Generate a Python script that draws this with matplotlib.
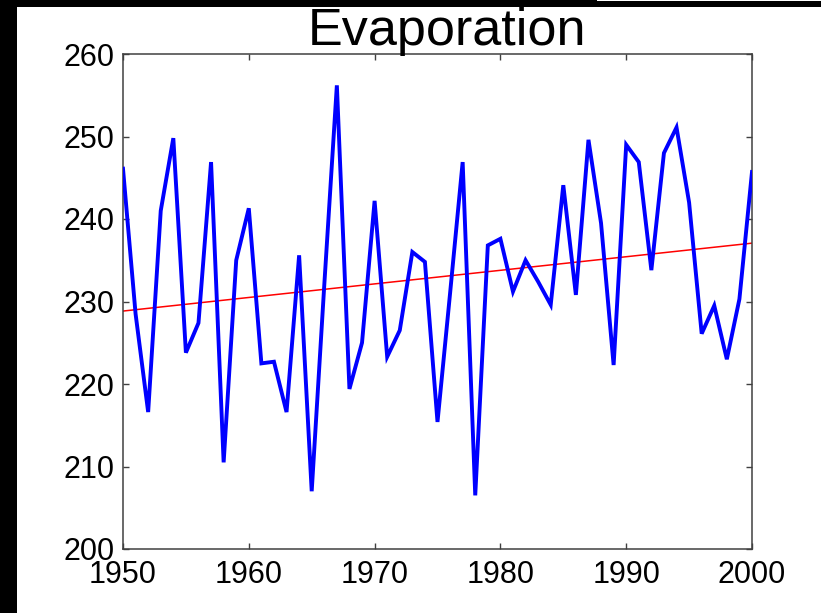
import matplotlib
matplotlib.use('Agg')
import matplotlib.pyplot as plt
from matplotlib.patches import Rectangle
import numpy as np

plt.rcParams['font.family'] = ['Liberation Sans', 'DejaVu Sans']

# annual evaporation, 1950-2000
years = list(range(1950, 2001))
evaporation = [
    246.1, 228.5, 216.6, 241.0, 249.8, 223.8, 227.4, 246.9, 210.5, 235.0,
    241.3, 222.5, 222.7, 216.6, 235.6, 207.0, 232.0, 256.2, 219.4, 225.0,
    242.2, 223.3, 226.5, 236.0, 234.8, 215.4, 231.0, 246.9, 206.5, 236.8,
    237.6, 231.2, 235.0, 232.4, 229.6, 244.1, 230.8, 249.6, 239.5, 222.3,
    249.0, 246.9, 233.8, 248.0, 251.1, 242.0, 226.1, 229.5, 223.0, 230.3,
    245.7,
]

x_ticks = [1950, 1960, 1970, 1980, 1990, 2000]
y_ticks = [200, 210, 220, 230, 240, 250, 260]

W, H = 821, 613
fig = plt.figure(figsize=(W / 100, H / 100), dpi=100)
fig.patch.set_facecolor('white')

ax = fig.add_axes([123 / W, 1 - 549 / H, (752 - 123) / W, (549 - 54) / H])

x = np.array(years, dtype=float)
y = np.array(evaporation)
ax.plot(x, y, color='#0000ff', lw=2.8, solid_joinstyle='miter', zorder=3)

# least squares trend
slope, intercept = np.polyfit(x, y, 1)
ax.plot(x, slope * x + intercept, color='#ff0000', lw=1.1, zorder=2)

ax.set_xlim(1950, 2000)
ax.set_ylim(200, 260)
ax.set_xticks(x_ticks)
ax.set_yticks(y_ticks)
ax.tick_params(direction='in', length=4.5, width=1.0, color='#404040',
               top=True, right=True, labelsize=22, labelcolor='black')
ax.tick_params(axis='x', pad=8)
ax.tick_params(axis='y', pad=6)
for sp in ax.spines.values():
    sp.set_color('#404040')
    sp.set_linewidth(1.1)

fig.text(447 / W, 1 - 45 / H, 'Evaporation', fontsize=37.5, ha='center',
         va='baseline', color='black')

# dark frame along the left and top edges
fig.patches.append(Rectangle((0, 0), 17 / W, 1, transform=fig.transFigure,
                             facecolor='black', edgecolor='none', zorder=10))
fig.patches.append(Rectangle((0, 1 - 7 / H), 1, 7 / H,
                             transform=fig.transFigure, facecolor='black',
                             edgecolor='none', zorder=10))
fig.patches.append(Rectangle((597 / W, 1 - 1 / H), 1, 1 / H,
                             transform=fig.transFigure, facecolor='white',
                             edgecolor='none', zorder=11))

fig.savefig('out.png', dpi=100)
